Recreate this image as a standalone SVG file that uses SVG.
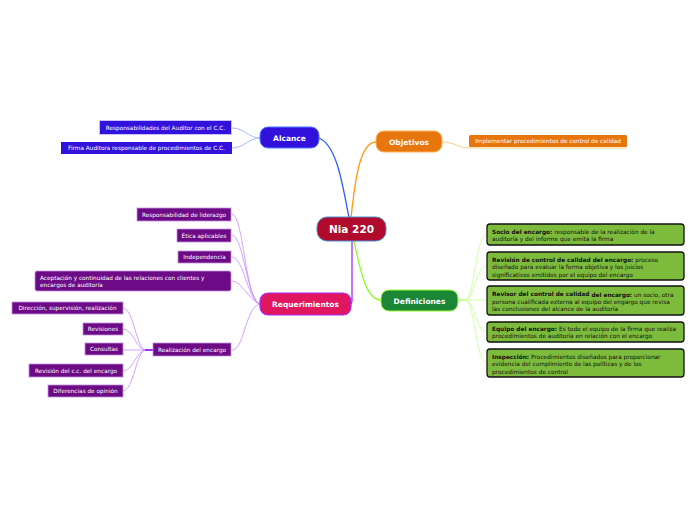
<svg xmlns="http://www.w3.org/2000/svg" width="696" height="520" viewBox="0 0 696 520">
<style>
text{font-family:"DejaVu Sans","Verdana",sans-serif}
.main{fill:#fff;font-weight:bold;text-anchor:middle}
.leaf{fill:#fff;font-size:5.75px;text-anchor:middle}
.def{fill:#111;font-size:5.8px}
.def tspan.b{font-weight:bold}
.c{fill:none;stroke-linecap:round}
.blue{stroke:#2f5cff;stroke-width:1.3}
.bluel{stroke:#8fa8ff;stroke-width:0.8}
.org{stroke:#ff9a10;stroke-width:1.3}
.orgl{stroke:#ffc36a;stroke-width:0.8}
.pur{stroke:#a52cff;stroke-width:1.3}
.purl{stroke:#c98cff;stroke-width:0.8}
.grn{stroke:#8cff2c;stroke-width:1.3}
.grnl{stroke:#c8ff96;stroke-width:0.8}
.bleaf{fill:#3311dd;stroke:#c8c0ff;stroke-width:1}
.pleaf{fill:#6d0a86;stroke:#c590e0;stroke-width:0.8}
.gbox{fill:#7dbb3c;stroke:#111;stroke-width:1.3}
</style>
<g id="connectors">
<path class="c blue" d="M349 218 C342 180 336 145 319 138"/>
<path class="c org" d="M351 218 C355 180 360 142 376 142"/>
<path class="c pur" d="M352 241 L352 300 Q352 304 350 304"/>
<path class="c grn" d="M354 241 C362 280 368 300 381 300"/>
<path class="c bluel" d="M260 138 C248 138 245 128 232 128"/>
<path class="c bluel" d="M260 138 C248 138 245 148 232 148"/>
<path class="c orgl" d="M442 142 C455 142 458 148 469 148 L627 148"/>
<path class="c grnl" d="M458 300 L465 300 C475 300 475 234 487 234"/>
<path class="c grnl" d="M458 300 L465 300 C475 300 475 266 487 266"/>
<path class="c grnl" d="M458 300 L487 300"/>
<path class="c grnl" d="M458 300 L465 300 C475 300 475 332 487 332"/>
<path class="c grnl" d="M458 300 L465 300 C475 300 475 363 487 363"/>
<path class="c purl" d="M260 304 C245 302 244 214 232 214"/>
<path class="c purl" d="M260 304 C247 302 244 235 232 235"/>
<path class="c purl" d="M260 304 C248 302 244 257 232 257"/>
<path class="c purl" d="M260 304 C250 302 242 281 232 281"/>
<path class="c purl" d="M260 304 C245 306 245 350 232 350"/>
<path class="c purl" d="M153 350 L146 350 C136 350 134 308 123 308"/>
<path class="c purl" d="M153 350 L146 350 C136 350 134 329 123 329"/>
<path class="c purl" d="M153 350 L123 350"/>
<path class="c purl" d="M153 350 L146 350 C136 350 134 371 123 371"/>
<path class="c purl" d="M153 350 L146 350 C136 350 134 391 123 391"/>
<rect x="145" y="349" width="8" height="2" fill="#a52cff"/>
</g>
<g id="center">
<rect x="317" y="217" width="69" height="24" rx="10" fill="#b00b2c" stroke="#4a8fd0" stroke-width="1"/>
<text class="main" x="351.5" y="233" font-size="10.5">Nia 220</text>
</g>
<g id="alcance">
<rect x="260" y="127" width="59" height="21" rx="8" fill="#3311dd" stroke="#4e7cff" stroke-width="1"/>
<text class="main" x="289.5" y="140.5" font-size="7.5">Alcance</text>
</g>
<g id="alcance-1">
<rect class="bleaf" x="99.5" y="120.5" width="132" height="14"/>
<text class="leaf" x="165.5" y="129.7">Responsabilidades del Auditor con el C.C.</text>
</g>
<g id="alcance-2">
<rect x="61" y="142" width="171" height="12" fill="#3311dd"/>
<text class="leaf" x="146.5" y="150.2">Firma Auditora responsable de procedimientos de C.C.</text>
</g>
<g id="objetivos">
<rect x="376" y="131" width="66" height="21" rx="8" fill="#e8760e" stroke="#ffb050" stroke-width="1"/>
<text class="main" x="409" y="144.5" font-size="7.5">Objetivos</text>
</g>
<g id="objetivos-1">
<rect x="469" y="135" width="158" height="12" rx="1.5" fill="#e8760e"/>
<text class="leaf" x="548" y="143.2" fill="#ffe8d0">Implementar procedimientos de control de calidad</text>
</g>
<g id="requerimientos">
<rect x="260" y="293" width="91" height="22" rx="8" fill="#e0175e" stroke="#a52cff" stroke-width="1.2"/>
<text class="main" x="305.5" y="306.5" font-size="7.5">Requerimientos</text>
</g>
<g id="req-1">
<rect class="pleaf" x="137" y="208" width="94" height="13"/>
<text class="leaf" x="184" y="216.7">Responsabilidad de liderazgo</text>
</g>
<g id="req-2">
<rect class="pleaf" x="177" y="229" width="54" height="13"/>
<text class="leaf" x="204" y="237.7">Ética aplicables</text>
</g>
<g id="req-3">
<rect class="pleaf" x="178" y="251" width="53" height="12"/>
<text class="leaf" x="204.5" y="259.2">Independencia</text>
</g>
<g id="req-4">
<rect class="pleaf" x="35" y="271" width="196" height="20" rx="2"/>
<text class="leaf" style="text-anchor:start" x="40" y="279.5">Aceptación y continuidad de las relaciones con clientes y</text>
<text class="leaf" style="text-anchor:start" x="40" y="287">encargos de auditoría</text>
</g>
<g id="req-5">
<rect class="pleaf" x="153" y="343" width="78" height="13"/>
<text class="leaf" x="192" y="351.7">Realización del encargo</text>
</g>
<g id="real-1">
<rect class="pleaf" x="12" y="302" width="111" height="12"/>
<text class="leaf" x="67.5" y="310.2">Dirección, supervisión, realización</text>
</g>
<g id="real-2">
<rect class="pleaf" x="83" y="323" width="40" height="12"/>
<text class="leaf" x="103" y="331.2">Revisiones</text>
</g>
<g id="real-3">
<rect class="pleaf" x="85" y="343" width="38" height="12"/>
<text class="leaf" x="104" y="351.2">Consultas</text>
</g>
<g id="real-4">
<rect class="pleaf" x="29" y="364" width="94" height="13"/>
<text class="leaf" x="76" y="372.7">Revisión del c.c. del encargo</text>
</g>
<g id="real-5">
<rect class="pleaf" x="48" y="385" width="75" height="12"/>
<text class="leaf" x="85.5" y="393.2">Diferencias de opinión</text>
</g>
<g id="definiciones">
<rect x="381" y="290" width="77" height="21" rx="8" fill="#1b8636" stroke="#99ff33" stroke-width="1"/>
<text class="main" x="419.5" y="303.5" font-size="7.5">Definiciones</text>
</g>
<g id="def-1">
<rect class="gbox" x="487" y="224" width="197" height="21" rx="3"/>
<text class="def" x="492" y="233.5"><tspan class="b">Socio del encargo:</tspan> responsable de la realización de la</text>
<text class="def" x="492" y="241">auditoría y del informe que emita la firma</text>
</g>
<g id="def-2">
<rect class="gbox" x="487" y="252" width="197" height="28" rx="3"/>
<text class="def" x="492" y="261.5"><tspan class="b">Revisión de control de calidad del encargo:</tspan> proceso</text>
<text class="def" x="492" y="269">diseñado para evaluar la forma objetiva y los juicios</text>
<text class="def" x="492" y="276.5">significativos emitidos por el equipo del encargo</text>
</g>
<g id="def-3">
<rect class="gbox" x="487" y="286" width="197" height="29" rx="3"/>
<text class="def" x="492" y="296"><tspan class="b">Revisor del control de calidad</tspan><tspan class="b" dy="0.8"> del encargo:</tspan> un socio, otra</text>
<text class="def" x="492" y="303.5">persona cualificada externa al equipo del engargo que revisa</text>
<text class="def" x="492" y="311">las conclusiones del alcance de la auditoría</text>
</g>
<g id="def-4">
<rect class="gbox" x="487" y="322" width="197" height="20" rx="3"/>
<text class="def" x="492" y="330.5"><tspan class="b">Equipo del encargo:</tspan> Es todo el equipo de la firma que realiza</text>
<text class="def" x="492" y="338">procedimientos de auditoría en relación con el encargo</text>
</g>
<g id="def-5">
<rect class="gbox" x="487" y="349" width="197" height="28" rx="3"/>
<text class="def" x="492" y="358.5"><tspan class="b">Inspección:</tspan> Procedimientos diseñados para proporcionar</text>
<text class="def" x="492" y="366">evidencia del cumplimiento de las políticas y de los</text>
<text class="def" x="492" y="373.5">procedimientos de control</text>
</g>
</svg>
